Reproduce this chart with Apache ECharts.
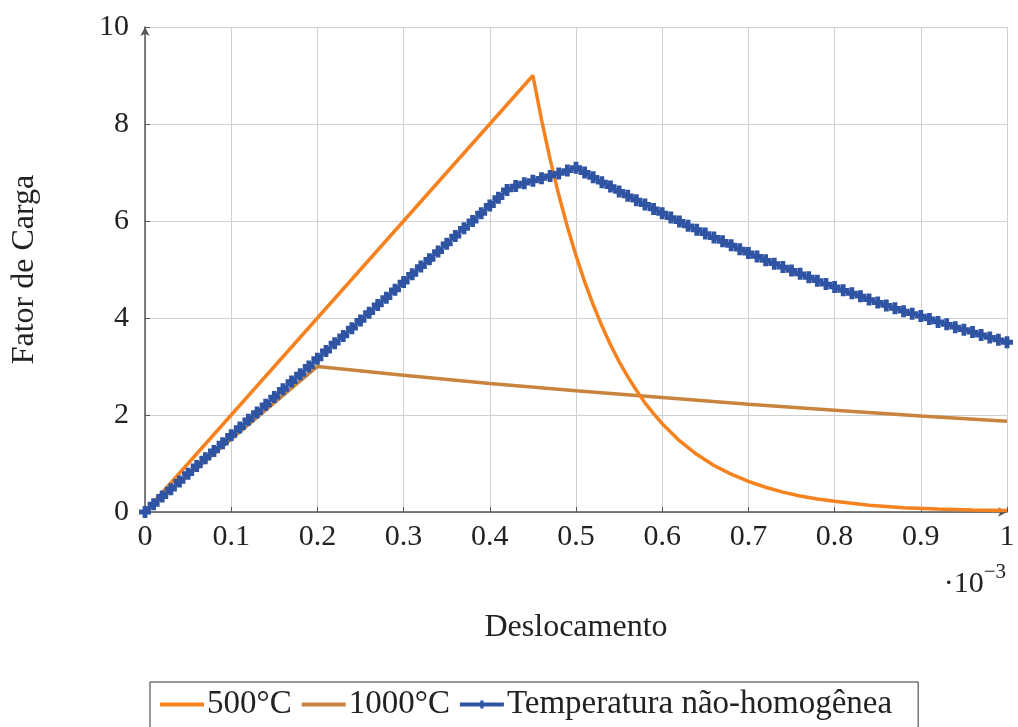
<!DOCTYPE html>
<html>
<head>
<meta charset="utf-8">
<script src="https://cdn.jsdelivr.net/npm/echarts@6/dist/echarts.min.js"></script>
<style>
  html, body { margin: 0; padding: 0; background: #fff; }
  #chart { width: 1018px; height: 727px; }
</style>
</head>
<body>
<div id="chart"></div>
<script>
// deslocamento em unidades de 1e-3
const x500 = [0, 0.45, 0.46, 0.47, 0.48, 0.49, 0.50, 0.51, 0.52, 0.53, 0.54, 0.55, 0.56, 0.57, 0.58, 0.59, 0.60,
  0.62, 0.64, 0.66, 0.68, 0.70, 0.72, 0.74, 0.76, 0.78, 0.80, 0.84, 0.88, 0.92, 0.96, 1.00];
const y500 = [0, 9.00, 8.09, 7.27, 6.54, 5.88, 5.29, 4.75, 4.27, 3.84, 3.45, 3.10, 2.79, 2.51, 2.25, 2.03, 1.82,
  1.47, 1.19, 0.96, 0.78, 0.63, 0.51, 0.41, 0.33, 0.27, 0.22, 0.14, 0.09, 0.06, 0.04, 0.03];

const x1000 = [0, 0.2, 0.3, 0.4, 0.5, 0.6, 0.7, 0.8, 0.9, 1.0];
const y1000 = [0, 3.00, 2.82, 2.65, 2.50, 2.36, 2.22, 2.10, 1.98, 1.87];

const xNH = [0, 0.01, 0.02, 0.03, 0.04, 0.05, 0.06, 0.07, 0.08, 0.09, 0.10, 0.11, 0.12, 0.13, 0.14, 0.15, 0.16,
  0.17, 0.18, 0.19, 0.20, 0.21, 0.22, 0.23, 0.24, 0.25, 0.26, 0.27, 0.28, 0.29, 0.30, 0.31, 0.32, 0.33, 0.34,
  0.35, 0.36, 0.37, 0.38, 0.39, 0.40, 0.41, 0.42, 0.43, 0.44, 0.45, 0.46, 0.47, 0.48, 0.49, 0.50, 0.51, 0.52,
  0.53, 0.54, 0.55, 0.56, 0.57, 0.58, 0.59, 0.60, 0.61, 0.62, 0.63, 0.64, 0.65, 0.66, 0.67, 0.68, 0.69, 0.70,
  0.71, 0.72, 0.73, 0.74, 0.75, 0.76, 0.77, 0.78, 0.79, 0.80, 0.81, 0.82, 0.83, 0.84, 0.85, 0.86, 0.87, 0.88,
  0.89, 0.90, 0.91, 0.92, 0.93, 0.94, 0.95, 0.96, 0.97, 0.98, 0.99, 1.00];
const yNH = [0, 0.16, 0.32, 0.47, 0.63, 0.79, 0.95, 1.11, 1.26, 1.42, 1.58, 1.74, 1.90, 2.05, 2.21, 2.37, 2.53,
  2.69, 2.84, 3.00, 3.16, 3.32, 3.48, 3.63, 3.79, 3.95, 4.11, 4.27, 4.42, 4.58, 4.74, 4.90, 5.06, 5.21, 5.37,
  5.53, 5.69, 5.85, 6.00, 6.16, 6.32, 6.48, 6.64, 6.72, 6.78, 6.83, 6.88, 6.93, 6.98, 7.04, 7.10, 7.00, 6.90,
  6.80, 6.71, 6.61, 6.52, 6.43, 6.34, 6.25, 6.16, 6.07, 5.99, 5.90, 5.82, 5.74, 5.66, 5.58, 5.50, 5.42, 5.34,
  5.27, 5.19, 5.12, 5.05, 4.98, 4.91, 4.84, 4.77, 4.70, 4.64, 4.57, 4.51, 4.45, 4.38, 4.32, 4.26, 4.20, 4.14,
  4.09, 4.04, 3.98, 3.92, 3.87, 3.81, 3.76, 3.71, 3.65, 3.60, 3.55, 3.50];

const names = ['500°C', '1000°C', 'Temperatura não-homogênea'];
const font = 'Liberation Serif';

const zip = (xs, ys) => xs.map((x, i) => [x, ys[i]]);

const myChart = echarts.init(document.getElementById('chart'));

const option = {
  animation: false,
  grid: { left: 145, right: 11, top: 27, bottom: 215, outerBoundsMode: 'none' },
  textStyle: { fontFamily: font },
  legend: {
    data: [
      { name: names[0], itemStyle: { opacity: 0 } },
      { name: names[1], itemStyle: { opacity: 0 } },
      { name: names[2] }
    ],
    left: 150,
    top: 682,
    orient: 'horizontal',
    borderColor: '#333',
    borderWidth: 1,
    borderRadius: 0,
    padding: [6, 26, 12, 8],
    itemGap: 8,
    itemWidth: 44,
    itemHeight: 10,
    lineStyle: { width: 4 },
    textStyle: { fontFamily: font, fontSize: 33, color: '#222', padding: [0, 0, 0, -2] }
  },
  xAxis: {
    type: 'value',
    min: 0,
    max: 1,
    interval: 0.1,
    name: 'Deslocamento',
    nameLocation: 'middle',
    nameGap: 100,
    nameTextStyle: { fontFamily: font, fontSize: 32, color: '#222' },
    axisLine: { lineStyle: { color: '#555', width: 1.5 }, symbol: ['none', 'arrow'], symbolSize: [7, 9] },
    axisTick: { inside: true, length: 5, lineStyle: { color: '#555' } },
    axisLabel: {
      margin: 10,
      fontFamily: font, fontSize: 30, color: '#222',
      formatter: v => +v.toFixed(1) + ''
    },
    splitLine: { show: true, lineStyle: { color: '#d0d0d0', width: 1 } }
  },
  yAxis: {
    type: 'value',
    min: 0,
    max: 10,
    interval: 2,
    name: 'Fator de Carga',
    nameLocation: 'middle',
    nameGap: 104,
    nameRotate: 90,
    nameTextStyle: { fontFamily: font, fontSize: 32, color: '#222' },
    axisLine: { show: true, lineStyle: { color: '#555', width: 1.5 }, symbol: ['none', 'arrow'], symbolSize: [7, 9] },
    axisTick: { show: true, inside: true, length: 5, lineStyle: { color: '#555' } },
    axisLabel: { margin: 16, fontFamily: font, fontSize: 30, color: '#222' },
    splitLine: { show: true, lineStyle: { color: '#d0d0d0', width: 1 } }
  },
  graphic: [{
    type: 'text',
    right: 12,
    top: 562,
    style: {
      text: '{a|·10}{b|−3}',
      rich: {
        a: { fontFamily: font, fontSize: 30, fill: '#222', verticalAlign: 'bottom' },
        b: { fontFamily: font, fontSize: 21, fill: '#222', verticalAlign: 'top', padding: [0, 0, 16, 0] }
      }
    }
  }],
  series: [
    {
      name: names[0],
      type: 'line',
      data: zip(x500, y500),
      showSymbol: false,
      symbol: 'none',
      lineStyle: { color: '#f5821f', width: 3.5 },
      itemStyle: { color: '#f5821f' },
      z: 3
    },
    {
      name: names[1],
      type: 'line',
      data: zip(x1000, y1000),
      showSymbol: false,
      symbol: 'none',
      lineStyle: { color: '#c8843c', width: 3.5 },
      itemStyle: { color: '#c8843c' },
      z: 2
    },
    {
      name: names[2],
      type: 'line',
      data: zip(xNH, yNH),
      symbol: 'path://M3,0 L7,0 L7,3 L10,3 L10,7 L7,7 L7,10 L3,10 L3,7 L0,7 L0,3 L3,3 Z',
      symbolSize: 12,
      showSymbol: true,
      showAllSymbol: true,
      lineStyle: { color: '#2f54a4', width: 3.5 },
      itemStyle: { color: '#2f54a4' },
      z: 4
    }
  ]
};

myChart.setOption(option);
</script>
</body>
</html>
